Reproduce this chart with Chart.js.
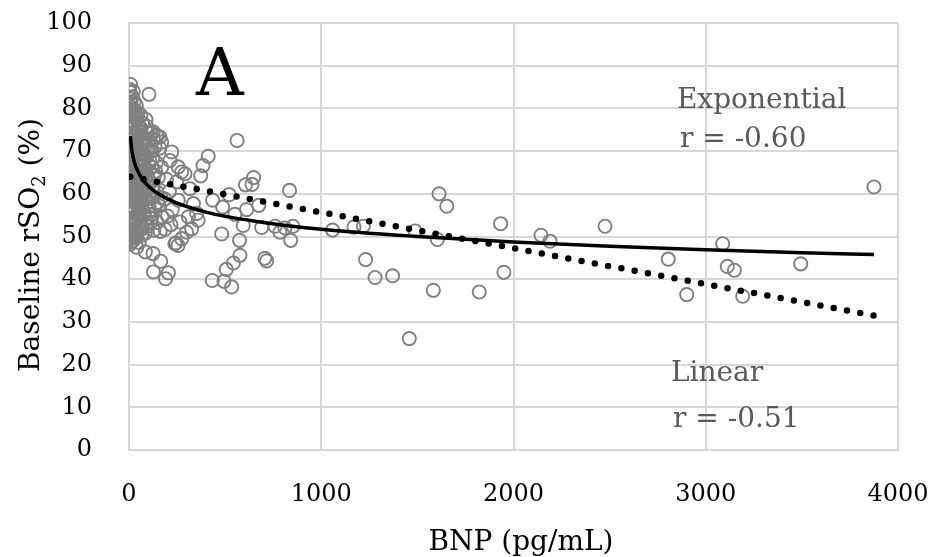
<!DOCTYPE html>
<html><head><meta charset="utf-8">
<script src="https://cdn.jsdelivr.net/npm/chart.js@4/dist/chart.umd.min.js"></script>
<style>html,body{margin:0;padding:0;background:#fff}#wrap{width:932px;height:557px}</style>
</head><body><div id="wrap"><canvas id="c" width="932" height="557"></canvas></div>
<script>
// BNP (pg/mL) and baseline rSO2 (%) per patient
const bnp = [
  8,5,12,6,14,3,10,7,13,4,11,6,15,9,3,12,7,14,5,10,4,13,8,6,11,4,9,14,6,
  22,27,19,30,24,20,29,23,31,18,26,21,32,25,19,28,22,30,20,27,24,31,18,26,40,22,
  38,45,36,50,41,53,39,47,35,52,43,55,37,48,42,54,36,46,51,40,49,44,38,53,
  62,70,60,75,66,58,72,64,77,61,69,74,59,67,76,63,71,65,
  88,95,84,100,90,103,86,97,83,101,92,105,87,96,85,
  115,128,112,124,118,132,110,126,116,134,121,113,129,
  148,160,142,170,152,145,166,155,172,147,162,
  195,210,185,225,200,218,188,
  2,9,4,10,6,3,8,5,10,2,7,4,9,
  17,25,20,28,16,23,27,18,26,21,24,
  44,52,40,48,55,42,50,46,41,
  63,78,68,73,60,80,66,
  92,86,108,97,88,104,94,
  120,138,125,150,117,
  104,126,143,161,109,135,170,222,213,256,274,291,248,317,
  85,125,165,127,205,190,239,274,300,326,360,352,309,265,256,335,
  562,412,385,373,648,640,606,835,521,435,487,612,551,675,594,690,760,785,811,853,841,
  482,575,577,707,716,543,506,433,494,534,244,255,
  1059,1170,1219,1231,1280,1371,1488,1458,1583,1613,1653,1604,1822,1933,1950,2143,2190,
  2476,2805,2901,3088,3112,3149,3192,3494,3875
];
const rso2 = [
  85.6,83.8,82.2,80.5,79.3,78,76.8,75.4,74.1,72.9,71.5,70.2,69,67.6,66.3,65,63.7,62.4,61,59.7,58.3,57,55.6,54.2,52.9,51.5,50.1,48.8,48.2,
  84,81.6,80.1,78.5,77,75.6,74.3,72.8,71.2,69.9,68.5,67,65.6,64.2,62.8,61.4,60,58.6,57.2,55.8,54.3,52.9,51.5,50,47.5,49,
  80.7,79,77.6,76.2,74.8,73.4,72,70.6,69.2,67.9,66.5,65.1,63.7,62.3,60.9,59.5,58.1,56.7,55.3,53.9,52.5,51.1,49.8,48.6,
  78.4,76.5,74.6,72.9,71.3,69.7,68.1,66.4,64.8,63.2,61.6,60,58.3,56.7,55.1,53.5,51.9,50.3,
  77.4,74.3,72.2,70.4,68.6,66.8,65,63.2,61.4,59.6,57.8,56,54.2,52.4,50.8,
  74.2,72.6,70.1,68.3,66.2,64.4,62.5,60.7,58.9,57.1,55.2,53.3,51.5,
  73.6,70.7,67.3,66.2,63.8,60.4,59.1,57.2,54.6,53.3,51.2,
  63.4,60.5,58.8,56.3,54.8,52.8,51.7,
  84.5,81.5,79,77.3,73.5,70.8,68.3,64.3,60.4,56.3,53.5,50.8,49.5,
  82.7,79.2,76.2,73.6,70.5,66.2,63.5,59.3,56.5,53.6,50.7,
  78.2,75.5,71.5,68.3,64.4,61.6,57.4,54.6,50.4,
  75.2,71.9,67.5,63.9,59.2,55.6,52.4,
  75.8,71.3,67.7,64.1,60.5,57,53.3,
  70.2,65.3,61.8,58,54.3,
  83.3,74.5,73.7,73.3,72.5,71,72.1,69.8,67.8,66.3,65.1,64.7,62.8,61.2,
  46.4,46,44.2,41.7,41.5,40.1,48.3,49.5,51,51.8,53.8,55.4,54.6,53.4,58.5,57.7,
  72.5,68.8,66.6,64.2,63.8,62.2,62.1,60.8,59.8,58.5,56.9,56.3,55.2,57.3,52.6,52.1,52.4,51,52,52.4,49.1,
  50.6,49.1,45.6,44.9,44.3,43.8,42.3,39.7,39.5,38.2,48.5,47.9,
  51.5,52.2,52.4,44.6,40.4,40.8,51.3,26.1,37.4,60,57.1,49.3,37,53,41.6,50.3,48.9,
  52.4,44.7,36.4,48.3,43,42.1,36,43.6,61.6
];
// Trend lines
const linearBnp = [7, 3875];
const linearRso2 = [64.0, 31.5];
const expBnp = [7, 15, 30, 60, 100, 200, 400, 700, 1000, 1500, 2000, 2500, 3000, 3500, 3875];
const expRso2 = [73.5, 70.1, 67.1, 64.1, 61.8, 58.8, 55.7, 53.3, 51.7, 50.0, 48.7, 47.7, 46.9, 46.2, 45.8];

const panelLabel = 'A';
const expLabel = ['Exponential', 'r = -0.60'];
const linLabel = ['Linear', 'r = -0.51'];
const xTitle = 'BNP (pg/mL)';
const yTitleParts = ['Baseline rSO', '2', ' (%)'];

const FONT = '"DejaVu Serif", "Liberation Serif", serif';
const toXY = (xs, ys) => xs.map((x, i) => ({x, y: ys[i]}));
const noPad = s => { s.paddingLeft = 0; s.paddingRight = 0; s.paddingTop = 0; s.paddingBottom = 0; };

const textPlugin = {
  id: 'texts',
  afterDraw(chart) {
    const ctx = chart.ctx, xs = chart.scales.x, ys = chart.scales.y;
    const P = (x, y) => [xs.getPixelForValue(x), ys.getPixelForValue(y)];
    ctx.save();
    ctx.textBaseline = 'alphabetic';
    ctx.fillStyle = '#000';
    ctx.font = '66px ' + FONT;
    ctx.textAlign = 'center';
    let [px, py] = P(473, 83.1);
    ctx.fillText(panelLabel, px, py);
    ctx.fillStyle = '#595959';
    ctx.font = '28px ' + FONT;
    ctx.textAlign = 'left';
    [px, py] = P(2850, 80); ctx.fillText(expLabel[0], px, py);
    [px, py] = P(2866, 70.9); ctx.fillText(expLabel[1], px, py);
    [px, py] = P(2819, 16.1); ctx.fillText(linLabel[0], px, py);
    [px, py] = P(2830, 5.3); ctx.fillText(linLabel[1], px, py);
    ctx.fillStyle = '#000';
    ctx.textAlign = 'center';
    ctx.fillText(xTitle, 521, 550);
    ctx.translate(39, 245);
    ctx.rotate(-Math.PI / 2);
    const big = '28px ' + FONT, small = '18px ' + FONT;
    ctx.font = big; const w0 = ctx.measureText(yTitleParts[0]).width, w2 = ctx.measureText(yTitleParts[2]).width;
    ctx.font = small; const w1 = ctx.measureText(yTitleParts[1]).width;
    let sx = -(w0 + w1 + w2) / 2;
    ctx.textAlign = 'left';
    ctx.font = big; ctx.fillText(yTitleParts[0], sx, 0); sx += w0;
    ctx.font = small; ctx.fillText(yTitleParts[1], sx, 6); sx += w1;
    ctx.font = big; ctx.fillText(yTitleParts[2], sx, 0);
    ctx.restore();
  }
};

new Chart(document.getElementById('c'), {
  type: 'scatter',
  data: {
    datasets: [
      {
        type: 'line', label: 'Exponential', data: toXY(expBnp, expRso2),
        borderColor: '#000', borderWidth: 3.5, pointRadius: 0, fill: false,
        cubicInterpolationMode: 'monotone', order: 1
      },
      {
        type: 'line', label: 'Linear', data: toXY(linearBnp, linearRso2),
        borderColor: '#000', borderWidth: 6.5, borderDash: [0, 13.5], borderCapStyle: 'round',
        pointRadius: 0, fill: false, order: 2
      },
      {
        label: 'Patients', data: toXY(bnp, rso2),
        pointStyle: 'circle', pointRadius: 6.6, borderWidth: 1.9,
        borderColor: '#808080', backgroundColor: 'rgba(0,0,0,0)', order: 3
      }
    ]
  },
  options: {
    responsive: false, animation: false, devicePixelRatio: 1,
    layout: { autoPadding: false, padding: { left: 0, right: 34, top: 23, bottom: 0 } },
    plugins: { legend: { display: false }, tooltip: { enabled: false } },
    scales: {
      x: {
        type: 'linear', min: 0, max: 4000,
        ticks: { stepSize: 1000, padding: 30, color: '#000', font: { family: FONT, size: 24 },
                 callback: v => String(v) },
        grid: { color: '#d9d9d9', lineWidth: 2, drawTicks: false },
        border: { color: '#d9d9d9', width: 2 },
        afterFit(s) { s.height = 107; noPad(s); }
      },
      y: {
        min: 0, max: 100,
        ticks: { stepSize: 10, padding: 37, color: '#000', font: { family: FONT, size: 24 },
                 callback: v => String(v) },
        grid: { color: '#d9d9d9', lineWidth: 2, drawTicks: false },
        border: { color: '#d9d9d9', width: 2 },
        afterFit(s) { s.width = 129; noPad(s); }
      }
    }
  },
  plugins: [textPlugin]
});
</script>
</body></html>
